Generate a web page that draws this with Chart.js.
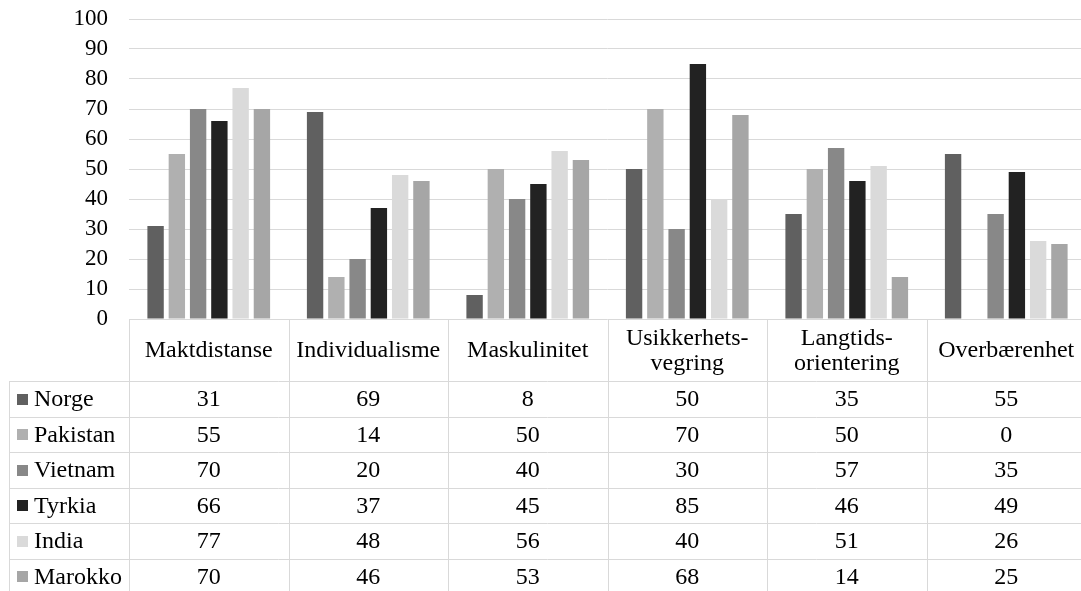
<!DOCTYPE html>
<html>
<head>
<meta charset="utf-8">
<script src="https://cdn.jsdelivr.net/npm/chart.js@4"></script>
<style>
html,body{margin:0;padding:0;overflow:hidden;background:#fff;}
#wrap{width:1087px;height:591px;}
</style>
</head>
<body>
<div id="wrap"><canvas id="c" width="1087" height="591"></canvas></div>
<script>
const categories = ['Maktdistanse', 'Individualisme', 'Maskulinitet', ['Usikkerhets-', 'vegring'], ['Langtids-', 'orientering'], 'Overbærenhet'];
const seriesNames = ['Norge', 'Pakistan', 'Vietnam', 'Tyrkia', 'India', 'Marokko'];
const norge    = [31, 69, 8, 50, 35, 55];
const pakistan = [55, 14, 50, 70, 50, 0];
const vietnam  = [70, 20, 40, 30, 57, 35];
const tyrkia   = [66, 37, 45, 85, 46, 49];
const india    = [77, 48, 56, 40, 51, 26];
const marokko  = [70, 46, 53, 68, 14, 25];
const seriesColors = ['#606060', '#b0b0b0', '#888888', '#222222', '#dadada', '#a6a6a6'];
const yTicks = [0, 10, 20, 30, 40, 50, 60, 70, 80, 90, 100];

const seriesValues = [norge, pakistan, vietnam, tyrkia, india, marokko];
const FONT = '"Liberation Serif", "Times New Roman", serif';
const FS_TICK = 23;
const FS_TABLE = 24;
const LINE = '#d9d9d9';

const tablePlugin = {
  id: 'dataTable',
  afterDraw(chart) {
    const ctx = chart.ctx;
    const x = chart.scales.x;
    const area = chart.chartArea;
    const n = categories.length;
    const colW = (area.right - area.left) / n;
    const top = area.bottom;
    const headerH = 62;
    const rowH = 35.5;
    const leftX = 9;
    ctx.save();
    ctx.strokeStyle = LINE;
    ctx.lineWidth = 1;
    const px = v => Math.round(v) + 0.5;
    ctx.beginPath();
    for (let i = 0; i < n; i++) {
      const cx = x.getPixelForValue(i) - colW / 2;
      ctx.moveTo(px(cx), top);
      ctx.lineTo(px(cx), chart.height);
    }
    ctx.moveTo(px(leftX), top + headerH);
    ctx.lineTo(px(leftX), chart.height);
    for (let r = 0; r <= seriesNames.length; r++) {
      const y = top + headerH + r * rowH;
      ctx.moveTo(leftX, px(y));
      ctx.lineTo(area.right, px(y));
    }
    ctx.stroke();

    ctx.fillStyle = '#000';
    ctx.font = FS_TABLE + 'px ' + FONT;
    ctx.textAlign = 'center';
    ctx.textBaseline = 'middle';
    for (let i = 0; i < n; i++) {
      const cx = x.getPixelForValue(i);
      const lab = categories[i];
      const lines = Array.isArray(lab) ? lab : [lab];
      const lh = 25;
      const cy = top + headerH / 2 + 1;
      lines.forEach((t, k) => {
        ctx.fillText(t, cx, cy + (k - (lines.length - 1) / 2) * lh);
      });
    }
    for (let r = 0; r < seriesNames.length; r++) {
      const cy = top + headerH + r * rowH + rowH / 2 + 1;
      ctx.textAlign = 'left';
      ctx.fillStyle = seriesColors[r];
      ctx.fillRect(17, Math.round(cy - 6), 11, 11);
      ctx.fillStyle = '#000';
      ctx.fillText(seriesNames[r], 34, cy);
      ctx.textAlign = 'center';
      for (let i = 0; i < n; i++) {
        ctx.fillText(String(seriesValues[r][i]), x.getPixelForValue(i), cy);
      }
    }
    ctx.restore();
  }
};

new Chart(document.getElementById('c'), {
  type: 'bar',
  data: {
    labels: categories,
    datasets: seriesNames.map((name, i) => ({
      label: name,
      data: seriesValues[i],
      backgroundColor: seriesColors[i],
      borderWidth: 0,
      categoryPercentage: 0.8,
      barPercentage: 0.77
    }))
  },
  options: {
    responsive: false,
    animation: false,
    devicePixelRatio: 1,
    layout: { padding: { top: 19, bottom: 272, left: 0, right: 1 } },
    plugins: { legend: { display: false }, tooltip: { enabled: false }, title: { display: false } },
    scales: {
      x: { display: false },
      y: {
        min: 0, max: 100,
        afterFit(s) { s.width = 129; s.paddingTop = 0; s.paddingBottom = 0; },
        afterBuildTicks(s) { s.ticks = yTicks.map(v => ({ value: v })); },
        border: { display: false },
        grid: { color: LINE, lineWidth: 1, drawTicks: false },
        ticks: { padding: 21, autoSkip: false, color: '#000', font: { family: FONT, size: FS_TICK, lineHeight: 1 } }
      }
    }
  },
  plugins: [tablePlugin]
});
</script>
</body>
</html>
